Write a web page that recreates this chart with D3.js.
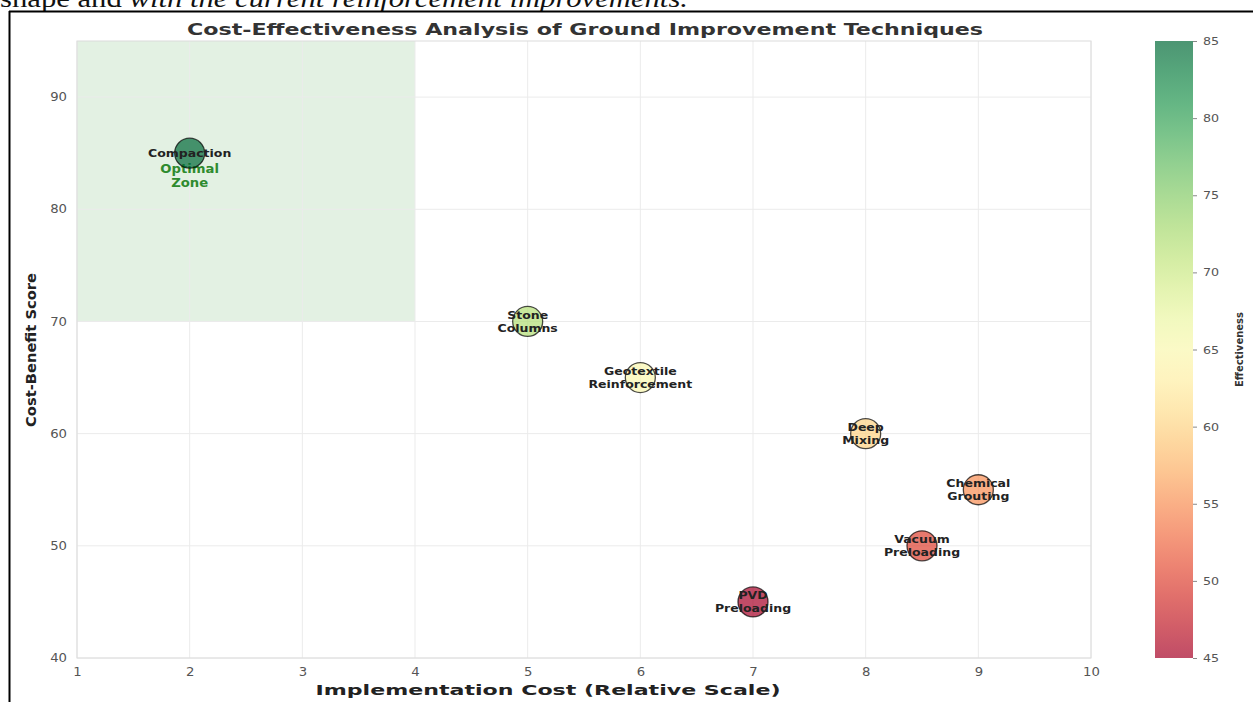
<!DOCTYPE html>
<html>
<head>
<meta charset="utf-8">
<script src="https://cdn.jsdelivr.net/npm/d3@7"></script>
<style>
  body { margin: 0; background: #fff; }
  svg { display: block; }
</style>
</head>
<body>
<script>
// data
const techniques = ["Compaction", "Stone\nColumns", "Geotextile\nReinforcement", "Deep\nMixing",
                    "Chemical\nGrouting", "Vacuum\nPreloading", "PVD\nPreloading"]
const cost = [2, 5, 6, 8, 9, 8.5, 7]
const benefit = [85, 70, 65, 60, 55, 50, 45]
const effectiveness = [85, 72, 65, 60, 55, 50, 45]
const xTicks = [1, 2, 3, 4, 5, 6, 7, 8, 9, 10]
const yTicks = [40, 50, 60, 70, 80, 90]
const cbTicks = [45, 50, 55, 60, 65, 70, 75, 80, 85]
const optimalZone = {x0: 1, x1: 4, y0: 70, y1: 95}

const W = 1253, H = 702
const plot = {left: 77, right: 1091, top: 41, bottom: 658}

const svg = d3.select("body").append("svg")
    .attr("width", W)
    .attr("height", H)

// text in the reference is wider than tall, stretch it a bit
function stretch(sel, k) {
    sel.each(function() {
        let len = this.getComputedTextLength()
        d3.select(this).attr("textLength", len * k).attr("lengthAdjust", "spacingAndGlyphs")
    })
}

// page bits around the figure (the line above is cut off in the source too)
svg.append("text")
    .attr("x", 0).attr("y", 7)
    .attr("font-family", "Liberation Serif, serif")
    .attr("font-size", 26)
    .attr("fill", "#111")
    .attr("textLength", 688).attr("lengthAdjust", "spacingAndGlyphs")
    .html('shape and <tspan font-style="italic">with the current reinforcement improvements.</tspan>')
svg.append("line").attr("x1", 9).attr("x2", W).attr("y1", 11.5).attr("y2", 11.5)
    .attr("stroke", "#000").attr("stroke-width", 2)
svg.append("line").attr("x1", 9.5).attr("x2", 9.5).attr("y1", 11).attr("y2", H)
    .attr("stroke", "#000").attr("stroke-width", 2)

let x = d3.scaleLinear().domain([1, 10]).range([plot.left, plot.right])
let y = d3.scaleLinear().domain([40, 95]).range([plot.bottom, plot.top])
let color = d3.scaleSequential(d3.interpolateRdYlGn).domain([45, 85])

// optimal zone
svg.append("rect")
    .attr("x", x(optimalZone.x0))
    .attr("y", y(optimalZone.y1))
    .attr("width", x(optimalZone.x1) - x(optimalZone.x0))
    .attr("height", y(optimalZone.y0) - y(optimalZone.y1))
    .attr("fill", "rgba(0,128,0,0.11)")

// grid
let grid = svg.append("g").attr("class", "grid")
grid.selectAll(".gx").data(xTicks).enter().append("line")
    .attr("x1", d => x(d)).attr("x2", d => x(d))
    .attr("y1", plot.top).attr("y2", plot.bottom)
    .attr("stroke", "#ebebeb").attr("stroke-width", 1)
grid.selectAll(".gy").data(yTicks).enter().append("line")
    .attr("x1", plot.left).attr("x2", plot.right)
    .attr("y1", d => y(d)).attr("y2", d => y(d))
    .attr("stroke", "#ebebeb").attr("stroke-width", 1)

svg.append("rect")
    .attr("x", plot.left).attr("y", plot.top)
    .attr("width", plot.right - plot.left).attr("height", plot.bottom - plot.top)
    .attr("fill", "none").attr("stroke", "#dcdcdc").attr("stroke-width", 1)

// axes (labels only, no tick marks)
let xAxis = svg.append("g")
    .attr("transform", "translate(0," + plot.bottom + ")")
    .call(d3.axisBottom(x).tickValues(xTicks).tickSize(0).tickPadding(10))
let yAxis = svg.append("g")
    .attr("transform", "translate(" + plot.left + ",0)")
    .call(d3.axisLeft(y).tickValues(yTicks).tickSize(0).tickPadding(10))
;[xAxis, yAxis].forEach(a => {
    a.select(".domain").remove()
    a.selectAll("text")
        .attr("font-family", "DejaVu Sans, sans-serif")
        .attr("font-size", 11.5)
        .attr("fill", "#555")
})
stretch(xAxis.selectAll("text"), 1.15)
stretch(yAxis.selectAll("text"), 1.15)

// optimal zone label
let oz = svg.append("text")
    .attr("x", x(2))
    .attr("y", y(83))
    .attr("text-anchor", "middle")
    .attr("font-family", "DejaVu Sans, sans-serif")
    .attr("font-weight", "bold")
    .attr("font-size", 12)
    .attr("fill", "#2e8b2e")
oz.selectAll("tspan").data(["Optimal", "Zone"]).enter().append("tspan")
    .attr("x", x(2))
    .attr("dy", (d, i) => i === 0 ? "-3" : "14")
    .text(d => d)
stretch(oz.selectAll("tspan"), 1.1)

// bubbles
let points = techniques.map((t, i) => ({name: t, x: cost[i], y: benefit[i], e: effectiveness[i]}))

svg.append("g").selectAll("circle")
    .data(points)
    .enter().append("circle")
    .attr("cx", d => x(d.x))
    .attr("cy", d => y(d.y))
    .attr("r", 15)
    .attr("fill", d => color(d.e))
    .attr("fill-opacity", 0.7)
    .attr("stroke", "#000")
    .attr("stroke-opacity", 0.7)
    .attr("stroke-width", 1.3)

let labels = svg.append("g").selectAll("text")
    .data(points)
    .enter().append("text")
    .attr("text-anchor", "middle")
    .attr("font-family", "DejaVu Sans, sans-serif")
    .attr("font-weight", "bold")
    .attr("font-size", 10)
    .attr("fill", "#222")
labels.each(function(d) {
    let lines = d.name.split("\n")
    let t = d3.select(this)
    lines.forEach((l, i) => {
        t.append("tspan")
            .attr("x", x(d.x))
            .attr("y", y(d.y) + 4 + (i - (lines.length - 1) / 2) * 13)
            .text(l)
    })
})
stretch(labels.selectAll("tspan"), 1.25)

// colorbar
const cb = {x: 1155, w: 38, top: plot.top, bottom: plot.bottom}
let defs = svg.append("defs")
let grad = defs.append("linearGradient")
    .attr("id", "cbgrad")
    .attr("x1", "0").attr("x2", "0").attr("y1", "1").attr("y2", "0")
d3.range(0, 1.0001, 0.05).forEach(t => {
    grad.append("stop")
        .attr("offset", t)
        .attr("stop-color", d3.interpolateRdYlGn(t))
        .attr("stop-opacity", 0.7)
})
svg.append("rect")
    .attr("x", cb.x).attr("y", cb.top)
    .attr("width", cb.w).attr("height", cb.bottom - cb.top)
    .attr("fill", "url(#cbgrad)")

let cbScale = d3.scaleLinear().domain([45, 85]).range([cb.bottom, cb.top])
let cbAxis = svg.append("g")
    .attr("transform", "translate(" + (cb.x + cb.w) + ",0)")
    .call(d3.axisRight(cbScale).tickValues(cbTicks).tickSize(4).tickPadding(6))
cbAxis.select(".domain").remove()
cbAxis.selectAll("line").attr("stroke", "#888")
cbAxis.selectAll("text")
    .attr("font-family", "DejaVu Sans, sans-serif")
    .attr("font-size", 11)
    .attr("fill", "#555")
stretch(cbAxis.selectAll("text"), 1.15)

svg.append("text")
    .attr("transform", "translate(1243," + ((cb.top + cb.bottom) / 2) + ") rotate(-90)")
    .attr("text-anchor", "middle")
    .attr("font-family", "DejaVu Sans, sans-serif")
    .attr("font-weight", "bold")
    .attr("font-size", 10)
    .attr("fill", "#333")
    .text("Effectiveness")

// titles
svg.append("text")
    .attr("x", 585).attr("y", 35)
    .attr("text-anchor", "middle")
    .attr("font-family", "DejaVu Sans, sans-serif")
    .attr("font-weight", "bold")
    .attr("font-size", 16)
    .attr("fill", "#333")
    .attr("textLength", 796).attr("lengthAdjust", "spacingAndGlyphs")
    .text("Cost-Effectiveness Analysis of Ground Improvement Techniques")

svg.append("text")
    .attr("x", 548).attr("y", 695)
    .attr("text-anchor", "middle")
    .attr("font-family", "DejaVu Sans, sans-serif")
    .attr("font-weight", "bold")
    .attr("font-size", 14)
    .attr("fill", "#222")
    .attr("textLength", 465).attr("lengthAdjust", "spacingAndGlyphs")
    .text("Implementation Cost (Relative Scale)")

svg.append("text")
    .attr("transform", "translate(36,350) rotate(-90)")
    .attr("text-anchor", "middle")
    .attr("font-family", "DejaVu Sans, sans-serif")
    .attr("font-weight", "bold")
    .attr("font-size", 14)
    .attr("fill", "#222")
    .attr("textLength", 154).attr("lengthAdjust", "spacingAndGlyphs")
    .text("Cost-Benefit Score")
</script>
</body>
</html>
